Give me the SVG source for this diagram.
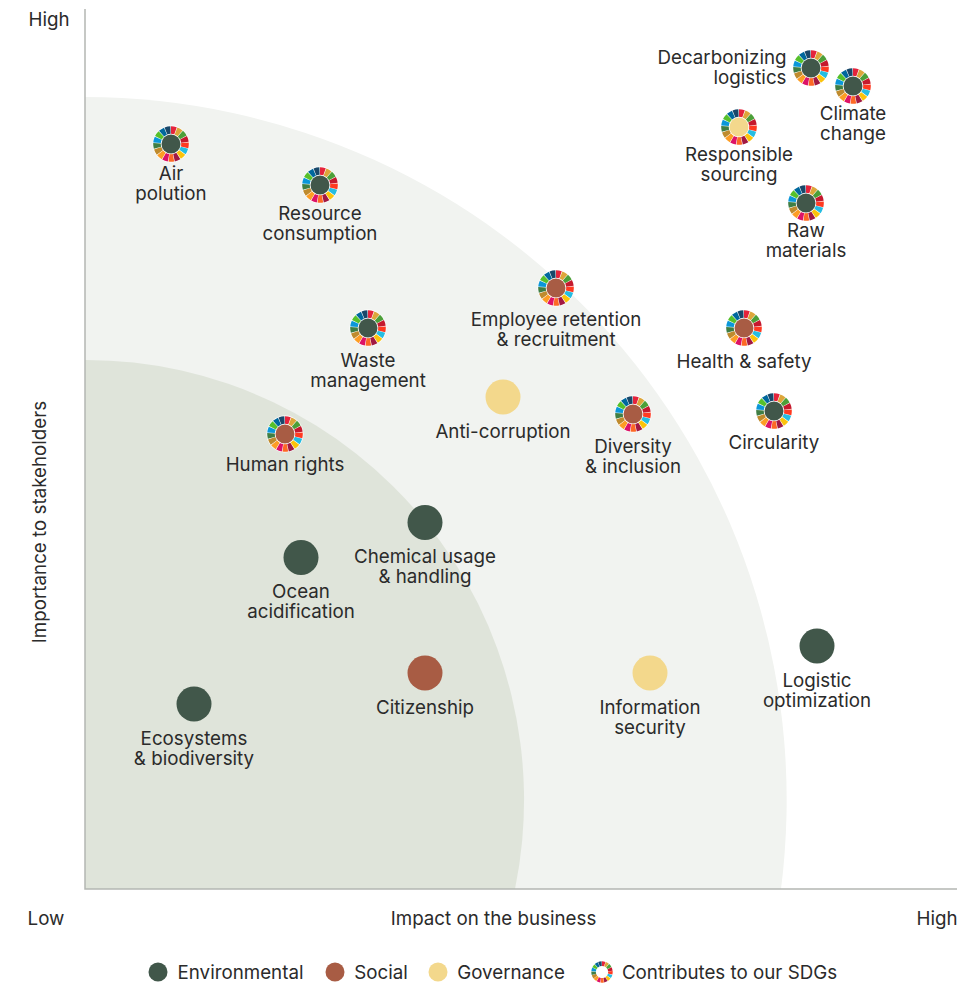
<svg xmlns="http://www.w3.org/2000/svg" width="967" height="987" viewBox="0 0 967 987">
<style>
text{font-family:"Inter","Liberation Sans",sans-serif;font-size:18.75px;fill:#2b2b2b;text-anchor:middle}
.s{fill:none;stroke-width:7.6;stroke-dasharray:.9 16.1}
.env{fill:#41574a}.soc{fill:#a85c44}.gov{fill:#f3d88c}
</style>
<defs>
<g id="wheel">
<circle r="18.5" fill="#fff"/>
<g transform="rotate(-90)">
<circle class="s" r="14" pathLength="17" stroke="#E5243B" stroke-dashoffset="0"/>
<circle class="s" r="14" pathLength="17" stroke="#DDA63A" stroke-dashoffset="-1"/>
<circle class="s" r="14" pathLength="17" stroke="#4C9F38" stroke-dashoffset="-2"/>
<circle class="s" r="14" pathLength="17" stroke="#C5192D" stroke-dashoffset="-3"/>
<circle class="s" r="14" pathLength="17" stroke="#FF3A21" stroke-dashoffset="-4"/>
<circle class="s" r="14" pathLength="17" stroke="#26BDE2" stroke-dashoffset="-5"/>
<circle class="s" r="14" pathLength="17" stroke="#FCC30B" stroke-dashoffset="-6"/>
<circle class="s" r="14" pathLength="17" stroke="#A21942" stroke-dashoffset="-7"/>
<circle class="s" r="14" pathLength="17" stroke="#FD6925" stroke-dashoffset="-8"/>
<circle class="s" r="14" pathLength="17" stroke="#DD1367" stroke-dashoffset="-9"/>
<circle class="s" r="14" pathLength="17" stroke="#FD9D24" stroke-dashoffset="-10"/>
<circle class="s" r="14" pathLength="17" stroke="#BF8B2E" stroke-dashoffset="-11"/>
<circle class="s" r="14" pathLength="17" stroke="#3F7E44" stroke-dashoffset="-12"/>
<circle class="s" r="14" pathLength="17" stroke="#0A97D9" stroke-dashoffset="-13"/>
<circle class="s" r="14" pathLength="17" stroke="#56C02B" stroke-dashoffset="-14"/>
<circle class="s" r="14" pathLength="17" stroke="#00689D" stroke-dashoffset="-15"/>
<circle class="s" r="14" pathLength="17" stroke="#19486A" stroke-dashoffset="-16"/>
</g>
</g>
</defs>
<g id="background">
<path d="M85 97A703 703 0 0 1 781 889H85Z" fill="#f1f3f0"/>
<path d="M85 360A438 440 0 0 1 515 889H85Z" fill="#dfe4da"/>
<path d="M85 9V889H957" fill="none" stroke="#b4b6b2" stroke-width="1.5"/>
</g>
<g id="axis-labels">
<text x="49" y="26">High</text>
<text x="46" y="925">Low</text>
<text x="937" y="925">High</text>
<text x="493.500" y="925">Impact on the business</text>
<text transform="translate(46 522) rotate(-90)">Importance to stakeholders</text>
</g>
<g id="connectors"></g>
<g id="air-polution"><use href="#wheel" x="171" y="144"/><circle class="env" cx="171" cy="144" r="9.5"/><text x="171" y="180">Air</text><text x="171" y="200">polution</text></g>
<g id="resource-consumption"><use href="#wheel" x="320" y="185"/><circle class="env" cx="320" cy="185" r="9.5"/><text x="320" y="220">Resource</text><text x="320" y="240">consumption</text></g>
<g id="waste-management"><use href="#wheel" x="368" y="328"/><circle class="env" cx="368" cy="328" r="9.5"/><text x="368" y="367">Waste</text><text x="368" y="387">management</text></g>
<g id="human-rights"><use href="#wheel" x="285" y="434"/><circle class="soc" cx="285" cy="434" r="9.5"/><text x="285" y="471">Human rights</text></g>
<g id="employee-retention"><use href="#wheel" x="556" y="288"/><circle class="soc" cx="556" cy="288" r="9.5"/><text x="556" y="326">Employee retention</text><text x="556" y="346">&amp; recruitment</text></g>
<g id="anti-corruption"><circle class="gov" cx="503" cy="397" r="17.5"/><text x="503" y="438">Anti-corruption</text></g>
<g id="diversity-inclusion"><use href="#wheel" x="633" y="414"/><circle class="soc" cx="633" cy="414" r="9.5"/><text x="633" y="453">Diversity</text><text x="633" y="473">&amp; inclusion</text></g>
<g id="health-safety"><use href="#wheel" x="744" y="328"/><circle class="soc" cx="744" cy="328" r="9.5"/><text x="744" y="368">Health &amp; safety</text></g>
<g id="circularity"><use href="#wheel" x="774" y="411"/><circle class="env" cx="774" cy="411" r="9.5"/><text x="774" y="449">Circularity</text></g>
<g id="decarbonizing-logistics"><use href="#wheel" x="811" y="68"/><circle class="env" cx="811" cy="68" r="9.5"/><text x="722" y="64">Decarbonizing</text><text x="750" y="84">logistics</text></g>
<g id="climate-change"><use href="#wheel" x="853" y="86"/><circle class="env" cx="853" cy="86" r="9.5"/><text x="853" y="120">Climate</text><text x="853" y="140">change</text></g>
<g id="responsible-sourcing"><use href="#wheel" x="739" y="127"/><circle class="gov" cx="739" cy="127" r="9.5"/><text x="739" y="161">Responsible</text><text x="739" y="181">sourcing</text></g>
<g id="raw-materials"><use href="#wheel" x="806" y="203"/><circle class="env" cx="806" cy="203" r="9.5"/><text x="806" y="237">Raw</text><text x="806" y="257">materials</text></g>
<g id="chemical-usage"><circle class="env" cx="425" cy="522.5" r="17.5"/><text x="425" y="563">Chemical usage</text><text x="425" y="583">&amp; handling</text></g>
<g id="ocean-acidification"><circle class="env" cx="301" cy="557.5" r="17.5"/><text x="301" y="598">Ocean</text><text x="301" y="618">acidification</text></g>
<g id="citizenship"><circle class="soc" cx="425" cy="673" r="17.5"/><text x="425" y="714">Citizenship</text></g>
<g id="ecosystems-biodiversity"><circle class="env" cx="194" cy="704" r="17.5"/><text x="194" y="745">Ecosystems</text><text x="194" y="765">&amp; biodiversity</text></g>
<g id="information-security"><circle class="gov" cx="650" cy="673" r="17.5"/><text x="650" y="714">Information</text><text x="650" y="734">security</text></g>
<g id="logistic-optimization"><circle class="env" cx="817" cy="646" r="17.5"/><text x="817" y="687">Logistic</text><text x="817" y="707">optimization</text></g>
<g id="legend">
<circle class="env" cx="158" cy="972" r="9.5"/><text x="240.500" y="979">Environmental</text>
<circle class="soc" cx="335" cy="972" r="9.5"/><text x="381" y="979">Social</text>
<circle class="gov" cx="438" cy="972" r="9.5"/><text x="511" y="979">Governance</text>
<use href="#wheel" transform="translate(602 972) scale(.6)"/><text x="729.500" y="979">Contributes to our SDGs</text>
</g>
</svg>
